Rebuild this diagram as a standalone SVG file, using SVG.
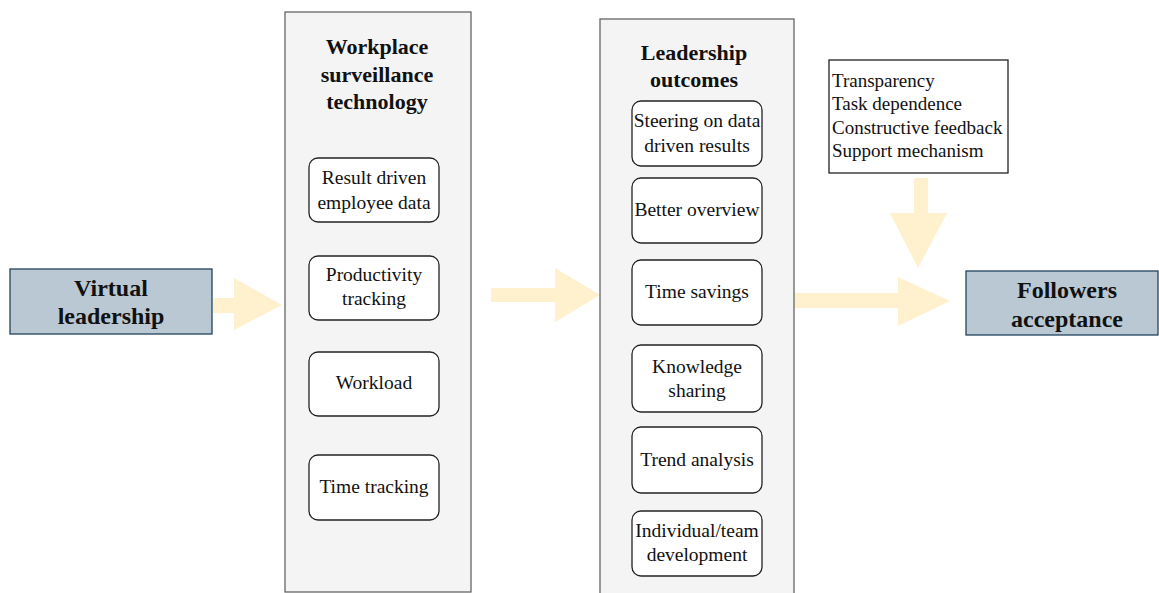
<svg xmlns="http://www.w3.org/2000/svg" width="1159" height="593" viewBox="0 0 1159 593">
  <style>
    .bg { fill: #ffffff; }
    .end { fill: #bac8d3; stroke: #23445d; stroke-width: 1.3; }
    .panel { fill: #f4f4f4; stroke: #666666; stroke-width: 1.3; }
    .item { fill: #ffffff; stroke: #222222; stroke-width: 1.3; }
    .note { fill: #ffffff; stroke: #222222; stroke-width: 1.3; }
    .flow { fill: #fff1cd; }
    text { font-family: "Liberation Serif", "Times New Roman", serif; fill: #111111; }
    .hd { font-size: 22px; font-weight: bold; text-anchor: middle; }
    .hd2 { font-size: 24px; font-weight: bold; text-anchor: middle; }
    .lb { font-size: 19.5px; text-anchor: middle; }
    .nt { font-size: 19px; }
  </style>
  <rect class="bg" x="0" y="0" width="1159" height="593"/>

  <!-- broad flow arrows -->
  <g id="connectors">
    <polygon class="flow" points="213,298 234,298 234,278 282,305 234,330 234,313 213,313"/>
    <polygon class="flow" points="491,288 555,288 555,268 600,295 555,322 555,302 491,302"/>
    <polygon class="flow" points="794,293 898,293 898,277 950,301 898,326 898,308 794,308"/>
    <polygon class="flow" points="914,178 928,178 928,213 947,213 918,268 890,213 914,213"/>
  </g>

  <g id="virtual-leadership">
    <rect class="end" x="10" y="269" width="202" height="65"/>
    <text class="hd2" x="111" y="296">Virtual</text>
    <text class="hd2" x="111" y="324">leadership</text>
  </g>

  <g id="surveillance-panel">
    <rect class="panel" x="285" y="12" width="186" height="580"/>
    <text class="hd" x="377" y="54">Workplace</text>
    <text class="hd" x="377" y="82">surveillance</text>
    <text class="hd" x="377" y="109">technology</text>
  </g>
  <g id="result-driven">
    <rect class="item" x="309" y="158" width="130" height="64" rx="9"/>
    <text class="lb" x="374" y="184">Result driven</text>
    <text class="lb" x="374" y="209">employee data</text>
  </g>
  <g id="productivity">
    <rect class="item" x="309" y="256" width="130" height="64" rx="9"/>
    <text class="lb" x="374" y="281">Productivity</text>
    <text class="lb" x="374" y="305">tracking</text>
  </g>
  <g id="workload">
    <rect class="item" x="309" y="352" width="130" height="64" rx="9"/>
    <text class="lb" x="374" y="389">Workload</text>
  </g>
  <g id="time-tracking">
    <rect class="item" x="309" y="455" width="130" height="65" rx="9"/>
    <text class="lb" x="374" y="493">Time tracking</text>
  </g>

  <g id="outcomes-panel">
    <rect class="panel" x="600" y="19" width="194" height="580"/>
    <text class="hd" x="694" y="60">Leadership</text>
    <text class="hd" x="694" y="87">outcomes</text>
  </g>
  <g id="steering">
    <rect class="item" x="632" y="101" width="130" height="65" rx="9"/>
    <text class="lb" x="697" y="127">Steering on data</text>
    <text class="lb" x="697" y="152">driven results</text>
  </g>
  <g id="overview">
    <rect class="item" x="632" y="178" width="130" height="65" rx="9"/>
    <text class="lb" x="697" y="216">Better overview</text>
  </g>
  <g id="time-savings">
    <rect class="item" x="632" y="260" width="130" height="65" rx="9"/>
    <text class="lb" x="697" y="298">Time savings</text>
  </g>
  <g id="knowledge">
    <rect class="item" x="632" y="345" width="130" height="67" rx="9"/>
    <text class="lb" x="697" y="373">Knowledge</text>
    <text class="lb" x="697" y="397">sharing</text>
  </g>
  <g id="trend">
    <rect class="item" x="632" y="427" width="130" height="66" rx="9"/>
    <text class="lb" x="697" y="466">Trend analysis</text>
  </g>
  <g id="development">
    <rect class="item" x="632" y="511" width="130" height="65" rx="9"/>
    <text class="lb" x="697" y="537">Individual/team</text>
    <text class="lb" x="697" y="561">development</text>
  </g>

  <g id="conditions">
    <rect class="note" x="829" y="60" width="179" height="113"/>
    <text class="nt" x="832" y="87">Transparency</text>
    <text class="nt" x="832" y="110">Task dependence</text>
    <text class="nt" x="832" y="134">Constructive feedback</text>
    <text class="nt" x="832" y="157">Support mechanism</text>
  </g>

  <g id="followers-acceptance">
    <rect class="end" x="966" y="271" width="192" height="64"/>
    <text class="hd2" x="1067" y="298">Followers</text>
    <text class="hd2" x="1067" y="327">acceptance</text>
  </g>
</svg>
